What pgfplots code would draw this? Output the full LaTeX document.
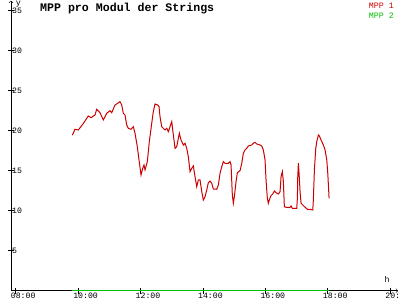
\documentclass[border=0pt]{standalone}
\usepackage{fontspec}
\setmainfont{Liberation Mono}
\usepackage{pgfplots}
\pgfplotsset{compat=1.18}
\definecolor{mppred}{RGB}{204,0,0}
\definecolor{mppgreen}{RGB}{0,192,0}
\pgfplotstableread{
h v
9.814 19.43
9.901 20.18
10.006 20.09
10.157 20.84
10.327 21.84
10.413 21.63
10.542 21.96
10.596 22.68
10.702 22.25
10.808 21.34
10.917 22.18
11.022 22.5
11.077 22.25
11.183 23.21
11.279 23.46
11.343 23.63
11.397 23.21
11.449 22.18
11.503 21.96
11.558 20.71
11.609 20.3
11.696 20.18
11.769 20.5
11.824 19.68
11.897 18.0
11.952 16.34
12.016 14.46
12.071 15.3
12.112 15.71
12.144 15.09
12.218 16.13
12.282 18.63
12.359 20.93
12.410 22.38
12.465 23.34
12.551 23.21
12.593 23.0
12.625 21.75
12.679 20.5
12.785 20.09
12.840 20.3
12.891 19.88
13.000 21.13
13.032 20.09
13.106 17.8
13.160 18.0
13.244 19.68
13.298 18.84
13.372 18.21
13.426 18.43
13.481 17.8
13.532 16.75
13.587 14.88
13.641 15.3
13.692 15.59
13.747 14.25
13.801 13.0
13.853 13.84
13.907 13.84
13.962 12.38
14.013 11.34
14.067 11.75
14.122 12.59
14.173 13.5
14.228 13.71
14.282 13.43
14.333 12.71
14.442 12.68
14.494 13.21
14.548 14.68
14.603 15.5
14.654 16.13
14.708 15.93
14.814 15.93
14.869 16.13
14.901 15.71
14.942 11.96
14.974 10.93
15.006 11.75
15.061 13.63
15.103 14.75
15.189 15.0
15.244 15.93
15.295 17.18
15.349 17.59
15.404 17.8
15.455 18.09
15.564 18.21
15.615 18.43
15.670 18.55
15.724 18.34
15.830 18.21
15.885 18.09
15.936 17.59
15.990 16.34
16.022 13.84
16.064 11.55
16.096 10.93
16.128 11.34
16.173 11.84
16.237 12.09
16.288 12.46
16.343 12.25
16.417 12.09
16.471 12.38
16.503 14.25
16.545 14.88
16.577 13.63
16.609 10.5
16.663 10.43
16.792 10.43
16.824 10.59
16.865 10.3
17.006 10.3
17.026 11.55
17.038 14.25
17.058 15.93
17.080 14.68
17.112 12.38
17.144 10.93
17.199 10.71
17.272 10.43
17.346 10.18
17.433 10.18
17.519 10.09
17.538 11.34
17.571 15.09
17.615 17.8
17.647 18.63
17.699 19.46
17.731 19.34
17.785 18.84
17.859 18.21
17.913 17.59
17.968 16.34
18.000 14.68
18.042 11.55
}\mppone
\pgfplotstableread{
h v
9.814 0
18.042 0
}\mpptwo
\begin{document}
\begin{tikzpicture}[x=1pt,y=1pt]
\useasboundingbox (0,0) rectangle (400,300);
\begin{axis}[
  at={(11pt,9.3pt)}, anchor=origin,
  scale only axis, width=387pt, height=290pt,
  xmin=7.85, xmax=20.25, ymin=0, ymax=36.25,
  axis x line=bottom, axis y line=left,
  axis line style={->, line width=0.6pt},
  xtick={8,10,12,14,16,18,20},
  xticklabels={08:00,10:00,12:00,14:00,16:00,18:00,20:00},
  ytick={5,10,15,20,25,30,35},
  tick align=center, major tick length=6pt,
  tick style={line width=0.6pt, black},
  /pgf/number format/assume math mode=true,
  ticklabel style={font=\fontsize{8.2}{9}\selectfont, inner sep=0pt},
  xticklabel style={anchor=north, xshift=7.5pt, yshift=0.8pt},
  yticklabel style={anchor=west, xshift=4pt, yshift=-0.5pt},
  xlabel={h}, ylabel={y},
  every axis x label/.style={at={(axis description cs:0.972,0.037)}, anchor=center, font=\fontsize{8.3}{9}\selectfont},
  every axis y label/.style={at={(axis description cs:0.012,1.0)}, anchor=north west, font=\fontsize{8.3}{9}\selectfont, inner sep=0pt},
  legend style={at={(axis description cs:0.995,0.998)}, anchor=north east, draw=none, fill=none, font=\fontsize{8.3}{8}\selectfont, inner sep=0pt, row sep=-1pt},
  legend cell align=right,
  legend image code/.code={},
  clip=false,
]
\addplot[mppred, line width=1pt] table[x=h,y=v] {\mppone};
\addlegendentry{\textcolor{mppred}{MPP 1}}
\addplot[mppgreen, line width=1.2pt] table[x=h,y=v] {\mpptwo};
\addlegendentry{\textcolor{mppgreen}{MPP 2}}
\node[anchor=north west, inner sep=0pt, font=\fontsize{11.6}{12}\selectfont\bfseries] at (axis description cs:0,1) [xshift=29pt, yshift=-2.5pt] {MPP pro Modul der Strings};
\end{axis}
\end{tikzpicture}
\end{document}
